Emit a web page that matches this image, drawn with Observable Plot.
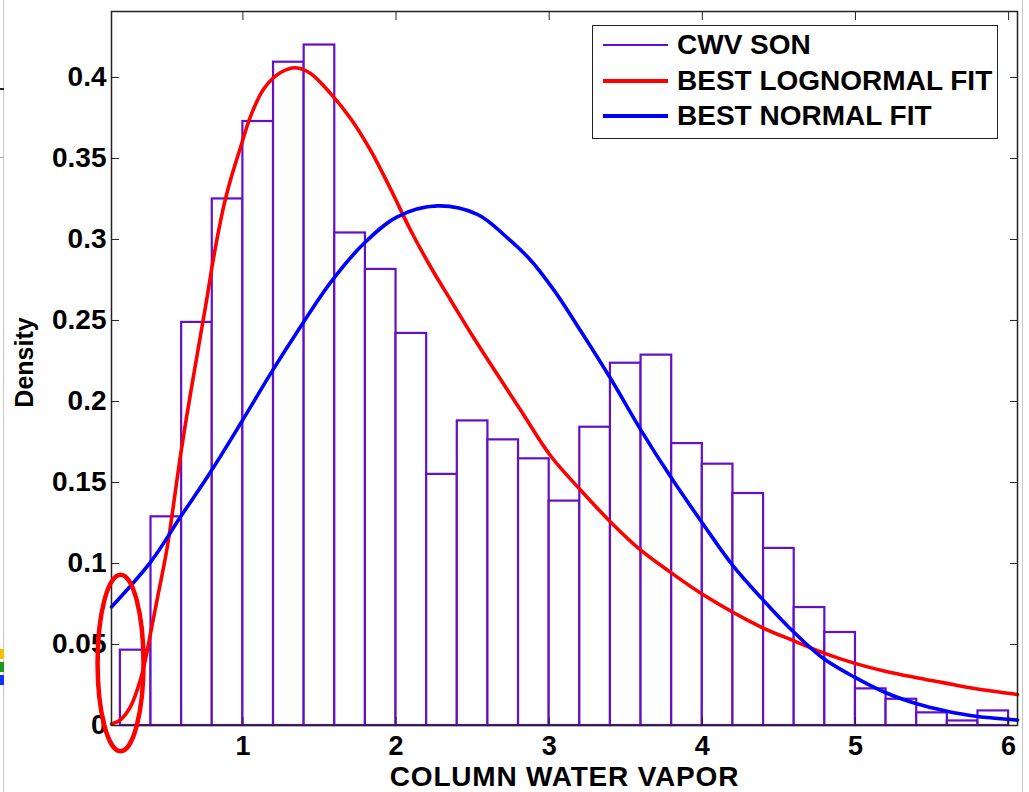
<!DOCTYPE html>
<html>
<head>
<meta charset="utf-8">
<script src="https://cdn.jsdelivr.net/npm/d3@7"></script>
<script src="https://cdn.jsdelivr.net/npm/@observablehq/plot@0.6"></script>
<style>
  html, body { margin: 0; padding: 0; background: #fff; }
  #wrap { position: relative; width: 1029px; height: 792px; overflow: hidden; background: #fff;
          font-family: "Liberation Sans", Arial, Helvetica, sans-serif; }
  #chart { position: absolute; left: 0; top: 0; }
  .legend { position: absolute; left: 592px; top: 25px; width: 406px; height: 114px;
            border: 1.5px solid #222; background: #fff; box-sizing: border-box; }
  .row { position: absolute; left: 0; height: 32px; }
  .swatch { position: absolute; left: 10px; width: 65px; }
  .ltext { position: absolute; left: 84px; white-space: nowrap; font-weight: bold; font-size: 28px;
           color: #000; line-height: 32px; top: 0; }
  .art { position: absolute; }
</style>
</head>
<body>
<div id="wrap">
  <div id="chart"></div>
  <div class="legend" id="legend"></div>
  <div class="art" style="left:3px;top:0;width:1px;height:792px;background:#c8c8c8"></div>
  <div class="art" style="left:1022px;top:0;width:1px;height:792px;background:#c8c8c8"></div>
  <div class="art" style="left:0;top:88px;width:4px;height:2px;background:#222"></div>
  <div class="art" style="left:0;top:157px;width:4px;height:1px;background:#aaa"></div>
  <div class="art" style="left:0;top:649px;width:4px;height:10px;background:#f2c200"></div>
  <div class="art" style="left:0;top:662px;width:4px;height:10px;background:#1a9a1a"></div>
  <div class="art" style="left:0;top:675px;width:4px;height:10px;background:#1030ff"></div>
</div>
<script>
// ---- data ----
const binEdges = [0.2, 0.4, 0.6, 0.8, 1.0, 1.2, 1.4, 1.6, 1.8, 2.0, 2.2, 2.4, 2.6, 2.8, 3.0,
                  3.2, 3.4, 3.6, 3.8, 4.0, 4.2, 4.4, 4.6, 4.8, 5.0, 5.2, 5.4, 5.6, 5.8, 6.0];
const density = [0.0465, 0.1288, 0.2488, 0.325, 0.3728, 0.4094, 0.420, 0.304, 0.2815, 0.242,
                 0.155, 0.188, 0.1763, 0.1646, 0.1385, 0.1841, 0.2236, 0.2286, 0.174, 0.1613,
                 0.1432, 0.1093, 0.0728, 0.0574, 0.0226, 0.0162, 0.0078, 0.0028, 0.009];

const lognormalX = [0.142, 0.2, 0.267, 0.332, 0.375, 0.397, 0.451, 0.506, 0.593, 0.658, 0.763, 0.811,
                    0.876, 0.92, 0.985, 1.05, 1.137, 1.246, 1.344, 1.442, 1.573, 1.703, 1.834,
                    1.965, 2.095, 2.226, 2.357, 2.509, 2.814, 3.009, 3.206, 3.402, 3.598, 3.793, 4.011,
                    4.381, 4.599, 4.795, 4.991, 5.187, 5.383, 5.579, 5.775, 6.058];
const lognormalY = [0.001, 0.0035, 0.0118, 0.0285, 0.046, 0.057, 0.083, 0.11, 0.167, 0.205, 0.2625, 0.290,
                    0.321, 0.337, 0.357, 0.376, 0.393, 0.403, 0.406, 0.4025, 0.390, 0.3747, 0.355,
                    0.331, 0.3057, 0.283, 0.2625, 0.239, 0.1946, 0.1665, 0.1452, 0.1255, 0.1082, 0.0945, 0.0804,
                    0.0609, 0.0522, 0.0447, 0.0385, 0.0337, 0.0298, 0.0263, 0.0228, 0.0191];

const normalX = [0.142, 0.398, 0.593, 0.789, 0.985, 1.181, 1.333, 1.573, 1.79, 2.008, 2.27, 2.531,
                 2.727, 2.879, 3.031, 3.206, 3.402, 3.598, 3.793, 4.0, 4.197, 4.392, 4.588, 4.784,
                 4.991, 5.198, 5.394, 5.59, 5.786, 6.058];
const normalY = [0.0732, 0.101, 0.1288, 0.1565, 0.1864, 0.2172, 0.2398, 0.2735, 0.2975, 0.314, 0.3207, 0.3155,
                 0.3010, 0.2872, 0.2687, 0.2435, 0.2140, 0.1825, 0.1535, 0.1250, 0.0990, 0.0780, 0.0585, 0.0418,
                 0.0300, 0.0202, 0.0136, 0.0090, 0.0057, 0.0033];

const xTicks = [1, 2, 3, 4, 5, 6];
const yTicks = [0, 0.05, 0.1, 0.15, 0.2, 0.25, 0.3, 0.35, 0.4];
const xDomain = [0.142, 6.058];
const yDomain = [0, 0.4407];

const seriesNames = ["CWV SON", "BEST LOGNORMAL FIT", "BEST NORMAL FIT"];
const seriesColors = ["#6410c6", "#ff0000", "#0000ff"];
const xLabel = "COLUMN WATER VAPOR";
const yLabel = "Density";
// annotation ellipse (data units): centre and radii
const ellipseNote = [{x: 0.2044, y: 0.0383, rx: 0.150, ry: 0.0545}];

// ---- build tables ----
const bins = density.map((d, i) => ({x1: binEdges[i], x2: binEdges[i + 1], y: d}));
const logPts = lognormalX.map((x, i) => ({x, y: lognormalY[i]}));
const normPts = normalX.map((x, i) => ({x, y: normalY[i]}));

const FONT = "'Liberation Sans', Arial, Helvetica, sans-serif";

const chart = Plot.plot({
  width: 1029,
  height: 792,
  marginLeft: 111,
  marginRight: 12,
  marginTop: 11,
  marginBottom: 67,
  style: {fontFamily: FONT, background: "white", color: "#000"},
  x: {domain: xDomain},
  y: {domain: yDomain},
  marks: [
    Plot.rectY(bins, {x1: "x1", x2: "x2", y: "y", fill: "white", stroke: seriesColors[0], strokeWidth: 2.2}),
    Plot.line(logPts, {x: "x", y: "y", stroke: seriesColors[1], strokeWidth: 3.6, curve: "catmull-rom"}),
    Plot.line(normPts, {x: "x", y: "y", stroke: seriesColors[2], strokeWidth: 3.6, curve: "catmull-rom"}),
    Plot.frame({stroke: "#222", strokeWidth: 1.5}),
    Plot.axisY(yTicks, {anchor: "left", tickSize: 0, tickPadding: 5, tickFormat: d => String(d),
                        fontSize: 28, fontWeight: "bold", fontFamily: FONT, label: null}),
    Plot.axisY(yTicks, {anchor: "left", tickSize: -8, fill: "none", label: null, stroke: "#222"}),
    Plot.axisY(yTicks, {anchor: "right", tickSize: -8, fill: "none", label: null, stroke: "#222"}),
    Plot.axisX(xTicks, {anchor: "bottom", tickSize: 0, tickPadding: 10, tickFormat: d => String(d),
                        fontSize: 27, fontWeight: "bold", fontFamily: FONT, label: null}),
    Plot.axisX(xTicks, {anchor: "bottom", tickSize: -8, fill: "none", label: null, stroke: "#222"}),
    Plot.axisX(xTicks, {anchor: "top", tickSize: -8, fill: "none", label: null, stroke: "#222"}),
    Plot.text([xLabel], {frameAnchor: "bottom", dy: 60.5, text: d => d, fontSize: 28, fontWeight: "bold",
                         fontFamily: FONT, lineAnchor: "bottom", textAnchor: "middle", fill: "#000"}),
    Plot.text([yLabel], {frameAnchor: "left", dx: -87, dy: -6, rotate: -90, text: d => d, fontSize: 25,
                         fontWeight: "bold", fontFamily: FONT, lineAnchor: "middle", textAnchor: "middle",
                         fill: "#000"})
  ]
});

document.getElementById("chart").appendChild(chart);

// slightly wider tracking for the x-axis title, as in the reference
d3.select(chart).selectAll("text").filter(function () { return this.textContent === xLabel; })
  .style("letter-spacing", "0.8px");

// annotation ellipse placed through the chart's own scales
const sx = chart.scale("x"), sy = chart.scale("y");
d3.select(chart).append("g").selectAll("ellipse").data(ellipseNote).join("ellipse")
  .attr("cx", d => sx.apply(d.x))
  .attr("cy", d => sy.apply(d.y))
  .attr("rx", d => Math.abs(sx.apply(d.x + d.rx) - sx.apply(d.x)))
  .attr("ry", d => Math.abs(sy.apply(d.y + d.ry) - sy.apply(d.y)))
  .attr("fill", "none")
  .attr("stroke", "#ff0000")
  .attr("stroke-width", 4.5);

// legend
const legend = document.getElementById("legend");
const rowTops = [3, 39, 74];
const swW = [2, 3.6, 3.6];
seriesNames.forEach((name, i) => {
  const row = document.createElement("div");
  row.className = "row";
  row.style.top = rowTops[i] + "px";
  row.style.width = "400px";
  const sw = document.createElement("div");
  sw.className = "swatch";
  sw.style.height = swW[i] + "px";
  sw.style.top = (16 - swW[i] / 2) + "px";
  sw.style.background = seriesColors[i];
  const t = document.createElement("div");
  t.className = "ltext";
  t.textContent = name;
  row.appendChild(sw);
  row.appendChild(t);
  legend.appendChild(row);
});
</script>
</body>
</html>
